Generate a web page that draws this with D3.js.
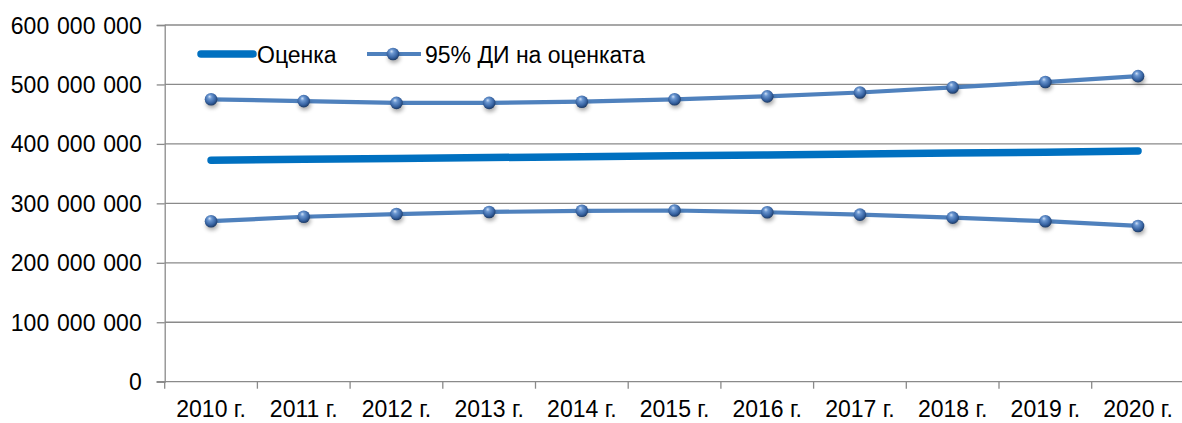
<!DOCTYPE html>
<html>
<head>
<meta charset="utf-8">
<script src="https://cdn.jsdelivr.net/npm/d3@7"></script>
<style>
  html, body { margin: 0; padding: 0; background: #fff; }
  svg { display: block; font-family: "Liberation Sans", Arial, sans-serif; }
</style>
</head>
<body>
<svg id="chart" width="1182" height="423"></svg>
<script>
// Years on the category axis
const years = ["2010 г.", "2011 г.", "2012 г.", "2013 г.", "2014 г.", "2015 г.", "2016 г.", "2017 г.", "2018 г.", "2019 г.", "2020 г."];
// Point estimate
const estimate = [372500000, 374000000, 375500000, 377000000, 378500000, 380000000, 381500000, 383000000, 384500000, 386000000, 388000000];
// Upper and lower bounds of the 95% confidence interval
const upperCI = [475000000, 472000000, 469000000, 469000000, 471000000, 475000000, 480000000, 486500000, 495000000, 504000000, 514000000];
const lowerCI = [270000000, 277500000, 282000000, 285500000, 287500000, 288000000, 285000000, 281000000, 276000000, 270000000, 262000000];
const yTicks = [0, 100000000, 200000000, 300000000, 400000000, 500000000, 600000000];
const seriesNames = ["Оценка", "95% ДИ на оценката"];

const svg = d3.select("#chart");
const plotLeft = 164.7, plotRight = 1184.4, plotTop = 25, plotBottom = 381.7;
const gridColor = "#8a8a8a";
const estColor = "#0070c0";
const ciColor = "#4f81bd";
const fontSize = "23px";

const x = d3.scaleBand().domain(years).range([plotLeft, plotRight]).paddingInner(0).paddingOuter(0);
const y = d3.scaleLinear().domain([0, 600000000]).range([plotBottom, plotTop]);
const cx = d => x(d) + x.bandwidth() / 2;

const defs = svg.append("defs");
const grad = defs.append("radialGradient")
  .attr("id", "ball").attr("cx", "45%").attr("cy", "40%").attr("r", "60%")
  .attr("fx", "38%").attr("fy", "28%");
grad.append("stop").attr("offset", "0%").attr("stop-color", "#cfe0f7");
grad.append("stop").attr("offset", "28%").attr("stop-color", "#6b97d1");
grad.append("stop").attr("offset", "72%").attr("stop-color", "#3763a2");
grad.append("stop").attr("offset", "100%").attr("stop-color", "#1c3a66");
defs.append("filter").attr("id", "soft").attr("x", "-100%").attr("y", "-100%").attr("width", "300%").attr("height", "300%")
  .append("feGaussianBlur").attr("stdDeviation", 2.2);

// Horizontal gridlines and value axis
const fmt = v => d3.format(",")(v).replace(/,/g, " ");
const yAxis = d3.axisLeft(y).tickValues(yTicks).tickFormat(fmt).tickSize(8).tickPadding(15);
const gy = svg.append("g").attr("transform", `translate(${plotLeft},0)`).call(yAxis);
gy.select(".domain").attr("stroke", gridColor).attr("stroke-width", 1.3);
gy.selectAll(".tick line").attr("stroke", gridColor).attr("stroke-width", 1.3);
gy.selectAll(".tick text").attr("fill", "#000").style("font-size", fontSize)
  .style("word-spacing", "1.5px").attr("dy", "0.35em");

svg.append("g").selectAll("line").data(yTicks.filter(v => v > 0)).join("line")
  .attr("x1", plotLeft).attr("x2", 1182)
  .attr("y1", d => y(d)).attr("y2", d => y(d))
  .attr("stroke", gridColor).attr("stroke-width", 1.3);

// Category axis with tick marks between years
const xAxis = d3.axisBottom(x).tickSize(0).tickPadding(19);
const gx = svg.append("g").attr("transform", `translate(0,${plotBottom})`).call(xAxis);
gx.select(".domain").remove();
gx.selectAll(".tick text").attr("fill", "#000").style("font-size", fontSize);
svg.append("line").attr("x1", plotLeft - 8).attr("x2", 1182).attr("y1", plotBottom).attr("y2", plotBottom)
  .attr("stroke", gridColor).attr("stroke-width", 1.3);
svg.append("g").selectAll("line").data(years).join("line")
  .attr("x1", d => x(d)).attr("x2", d => x(d))
  .attr("y1", plotBottom).attr("y2", plotBottom + 7)
  .attr("stroke", gridColor).attr("stroke-width", 1.3);

// Series lines
const line = d3.line().x((d, i) => cx(years[i])).y(d => y(d));
svg.append("path").datum(estimate).attr("d", line)
  .attr("fill", "none").attr("stroke", estColor).attr("stroke-width", 7.5)
  .attr("stroke-linecap", "round").attr("stroke-linejoin", "round");

function drawBall(g, px, py) {
  g.append("ellipse").attr("cx", px + 1).attr("cy", py + 4).attr("rx", 6).attr("ry", 5)
    .attr("fill", "#000").attr("opacity", 0.35).attr("filter", "url(#soft)");
  g.append("circle").attr("cx", px).attr("cy", py).attr("r", 6.3).attr("fill", "url(#ball)");
}

[upperCI, lowerCI].forEach(series => {
  const g = svg.append("g");
  g.append("path").datum(series).attr("d", line)
    .attr("fill", "none").attr("stroke", ciColor).attr("stroke-width", 4.2)
    .attr("stroke-linejoin", "round");
  series.forEach((v, i) => drawBall(g, cx(years[i]), y(v)));
});

// Legend
const lg = svg.append("g");
const ly = 54;
lg.append("line").attr("x1", 201).attr("x2", 253).attr("y1", ly).attr("y2", ly)
  .attr("stroke", estColor).attr("stroke-width", 7.5).attr("stroke-linecap", "round");
lg.append("text").attr("x", 257).attr("y", ly + 1).attr("dy", "0.35em")
  .style("font-size", fontSize).attr("fill", "#000").text(seriesNames[0]);
lg.append("line").attr("x1", 367).attr("x2", 421).attr("y1", ly).attr("y2", ly)
  .attr("stroke", ciColor).attr("stroke-width", 4.2);
drawBall(lg, 393, ly);
lg.append("text").attr("x", 425).attr("y", ly + 1).attr("dy", "0.35em")
  .style("font-size", fontSize).attr("fill", "#000").text(seriesNames[1]);
</script>
</body>
</html>
